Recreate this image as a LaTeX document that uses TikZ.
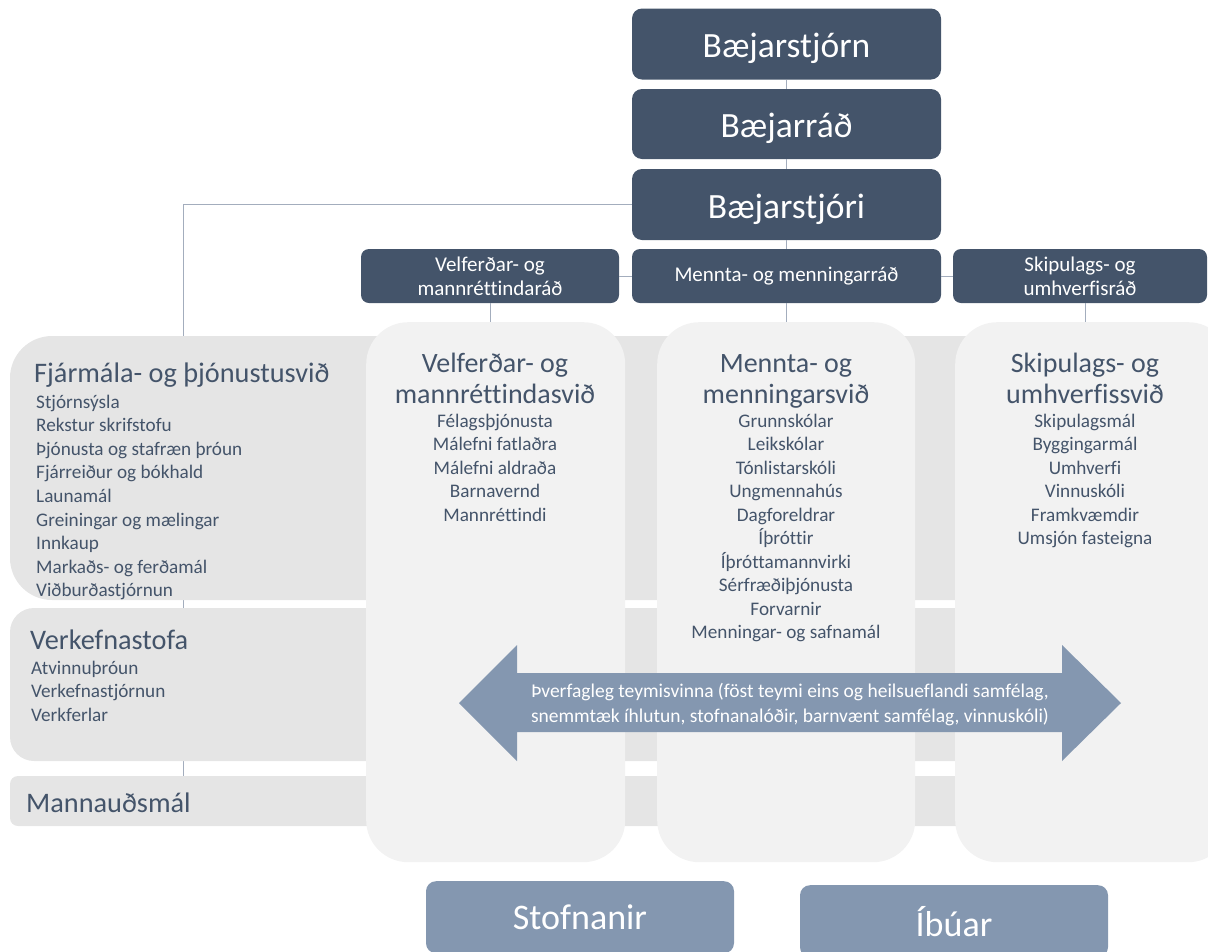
\documentclass[tikz,border=0pt]{standalone}
\usepackage{fontspec}
\setmainfont{Carlito}[Ligatures=CommonOff]
\definecolor{darkbox}{HTML}{44546A}
\definecolor{lightbox}{HTML}{8497B0}
\definecolor{bandgray}{HTML}{E5E5E5}
\definecolor{colgray}{HTML}{F2F2F2}
\definecolor{linegray}{HTML}{A3ADBD}
\definecolor{txtgray}{HTML}{44546A}
\tikzset{
  topbox/.style={fill=darkbox, rounded corners=10pt, minimum width=309pt, minimum height=71pt, inner sep=0pt, text=white, text height=27pt, text depth=0pt, font=\fontsize{35.5}{40}\selectfont},
  radbox/.style={fill=darkbox, rounded corners=8pt, inner sep=0pt, text=white, align=center, font=\fontsize{21}{24}\selectfont},
  botbox/.style={fill=lightbox, rounded corners=10pt, minimum width=308pt, inner sep=0pt, text=white, font=\fontsize{36}{40}\selectfont},
  conn/.style={draw=linegray, line width=0.8pt},
  colbox/.style={fill=colgray, rounded corners=42pt, inner sep=0pt},
  ltitle/.style={text=txtgray, inner sep=0pt, font=\fontsize{28.3}{32}\selectfont},
  litem/.style={text=txtgray, inner sep=0pt, font=\fontsize{19.2}{22}\selectfont},
  ctitle/.style={text=txtgray, inner sep=0pt, font=\fontsize{28}{31}\selectfont},
  arrtext/.style={text=white, inner sep=0pt, font=\fontsize{19.5}{22}\selectfont},
}
\begin{document}
\begin{tikzpicture}[x=1pt,y=-1pt]
\useasboundingbox (0,0) rectangle (1208,951);
\clip (0,0) rectangle (1208,951);

% top boxes
\node[topbox] (bjorn) at (786.5,44) {Bæjarstjórn};
\node[topbox, minimum height=70pt] (brad) at (786.5,124) {Bæjarráð};
\node[topbox] (bstj) at (786.5,204.5) {Bæjarstjóri};

% committee boxes
\node[radbox, minimum width=258pt, minimum height=54pt] (vrad) at (490,276) {Velferðar- og\\mannréttindaráð};
\node[radbox, minimum width=309pt, minimum height=54pt] (mrad) at (786.5,276) {Mennta- og menningarráð};
\node[radbox, minimum width=254pt, minimum height=54pt] (srad) at (1080,276) {Skipulags- og\\umhverfisráð};

% coordinates for connector ends
\coordinate (mtop) at (183,776);
\coordinate (vcol) at (490,322);
\coordinate (mcol) at (786.5,322);
\coordinate (scol) at (1085,322);

% connectors (behind panels)
\draw[conn] (bjorn.south) -- (brad.north);
\draw[conn] (brad.south) -- (bstj.north);
\draw[conn] (bstj.south) -- (mrad.north);
\draw[conn] (bstj.west) -| (mtop);
\draw[conn] (vrad.east) -- (mrad.west);
\draw[conn] (mrad.east) -- (srad.west);
\draw[conn] (vrad.south) -- (vcol);
\draw[conn] (mrad.south) -- (mcol);
\draw[conn] (scol |- srad.south) -- (scol);

% bands
\fill[bandgray, rounded corners=42pt] (10,336) rectangle (1250,600);
\fill[bandgray, rounded corners=24pt] (10,608) rectangle (1250,761);
\fill[bandgray, rounded corners=8pt] (10,776) rectangle (1250,826);

% columns
\node[colbox, minimum width=259pt, minimum height=540pt, anchor=north west] (vcolbox) at (366,322) {};
\node[colbox, minimum width=258pt, minimum height=540pt, anchor=north west] (mcolbox) at (657,322) {};
\node[colbox, minimum width=275pt, minimum height=540pt, anchor=north west] (scolbox) at (955,322) {};

% left band texts
\node[ltitle, anchor=base west] (fjt) at (34,382) {Fjármála- og þjónustusvið};
\foreach \t [count=\i] in {Stjórnsýsla, Rekstur skrifstofu, Þjónusta og stafræn þróun, Fjárreiður og bókhald, Launamál, Greiningar og mælingar, Innkaup, Markaðs- og ferðamál, Viðburðastjórnun}
  \node[litem, anchor=base west] (fj\i) at (36,{408+(\i-1)*23.6}) {\t};

\node[ltitle, anchor=base west] (vkt) at (30,649) {Verkefnastofa};
\foreach \t [count=\i] in {Atvinnuþróun, Verkefnastjórnun, Verkferlar}
  \node[litem, anchor=base west] (vk\i) at (31,{674+(\i-1)*23.6}) {\t};

\node[ltitle, anchor=base west] (mnt) at (26,812) {Mannauðsmál};

% column texts
\node[ctitle, anchor=base] (vt1) at (495,372) {Velferðar- og};
\node[ctitle, anchor=base] (vt2) at (495,403) {mannréttindasvið};
\foreach \t [count=\i] in {Félagsþjónusta, Málefni fatlaðra, Málefni aldraða, Barnavernd, Mannréttindi}
  \node[litem, anchor=base] (vi\i) at (495,{427+(\i-1)*23.5}) {\t};

\node[ctitle, anchor=base] (mt1) at (786,372) {Mennta- og};
\node[ctitle, anchor=base] (mt2) at (786,403) {menningarsvið};
\foreach \t [count=\i] in {Grunnskólar, Leikskólar, Tónlistarskóli, Ungmennahús, Dagforeldrar, Íþróttir, Íþróttamannvirki, Sérfræðiþjónusta, Forvarnir, Menningar- og safnamál}
  \node[litem, anchor=base] (mi\i) at (786,{427+(\i-1)*23.5}) {\t};

\node[ctitle, anchor=base] (st1) at (1085,372) {Skipulags- og};
\node[ctitle, anchor=base] (st2) at (1085,403) {umhverfissvið};
\foreach \t [count=\i] in {Skipulagsmál, Byggingarmál, Umhverfi, Vinnuskóli, Framkvæmdir, Umsjón fasteigna}
  \node[litem, anchor=base] (si\i) at (1085,{427+(\i-1)*23.5}) {\t};

% double arrow
\fill[lightbox] (459,703) -- (517,645) -- (517,673) -- (1062,673) -- (1062,645) -- (1121,703) -- (1062,761) -- (1062,732) -- (517,732) -- (517,761) -- cycle;
\node[arrtext, anchor=base] (ar1) at (790,697) {Þverfagleg teymisvinna (föst teymi eins og heilsueflandi samfélag,};
\node[arrtext, anchor=base] (ar2) at (790,722) {snemmtæk íhlutun, stofnanalóðir, barnvænt samfélag, vinnuskóli)};

% bottom boxes
\node[botbox, minimum height=72pt, anchor=north] (stofn) at (580,881) {Stofnanir};
\node[botbox, minimum height=72pt, anchor=north] (ibuar) at (954,885) {Íbúar};
\end{tikzpicture}
\end{document}
